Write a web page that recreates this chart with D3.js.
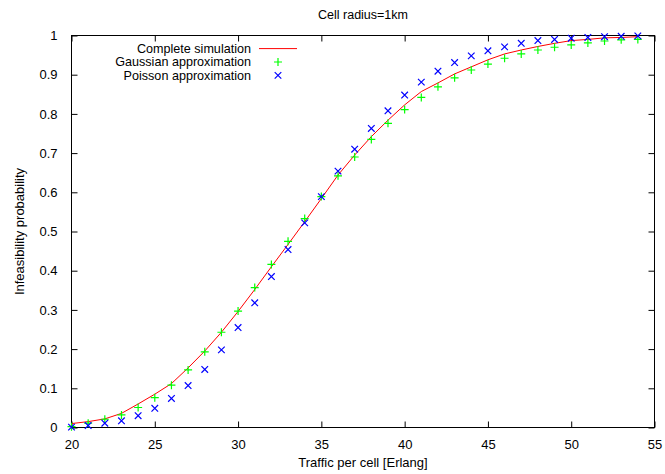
<!DOCTYPE html>
<html><head><meta charset="utf-8">
<script src="https://cdn.jsdelivr.net/npm/d3@7"></script>
<style>body{margin:0;background:#fff}svg{display:block}text{font-family:"Liberation Sans",Arial,sans-serif;fill:#000}</style>
</head><body><svg id="c" width="665" height="474"></svg>
<script>
const traffic = [20,21,22,23,24,25,26,27,28,29,30,31,32,33,34,35,36,37,38,39,40,41,42,43,44,45,46,47,48,49,50,51,52,53,54];
const simulation = [0.010,0.015,0.022,0.036,0.060,0.085,0.112,0.152,0.195,0.243,0.296,0.352,0.410,0.467,0.525,0.584,0.644,0.695,0.742,0.784,0.823,0.857,0.879,0.902,0.920,0.938,0.953,0.963,0.972,0.980,0.987,0.990,0.994,0.995,0.997];
const gaussian = [0.002,0.011,0.021,0.032,0.051,0.076,0.108,0.147,0.193,0.243,0.297,0.357,0.416,0.475,0.533,0.589,0.642,0.690,0.735,0.776,0.811,0.842,0.869,0.892,0.912,0.927,0.942,0.953,0.963,0.970,0.976,0.981,0.986,0.989,0.990];
const poisson = [0.001,0.005,0.011,0.017,0.030,0.049,0.074,0.107,0.148,0.198,0.255,0.318,0.385,0.454,0.522,0.589,0.654,0.710,0.763,0.808,0.848,0.881,0.909,0.931,0.948,0.961,0.971,0.980,0.987,0.990,0.993,0.995,0.997,0.998,0.999];
const xTicks = [20,25,30,35,40,45,50,55];
const yTicks = [0,0.1,0.2,0.3,0.4,0.5,0.6,0.7,0.8,0.9,1];
const legendLabels = ["Complete simulation","Gaussian approximation","Poisson approximation"];
const titleText = "Cell radius=1km";
const xLabel = "Traffic per cell [Erlang]";
const yLabel = "Infeasibility probability";

const svg = d3.select("#c");
const L=71.5, R=654.5, T=35.5, B=427.5;
const x = d3.scaleLinear().domain([20,55]).range([L,R]);
const y = d3.scaleLinear().domain([0,1]).range([B,T]);
const fs = 13;

svg.append("rect").attr("x",L).attr("y",T).attr("width",R-L).attr("height",B-T)
  .attr("fill","none").attr("stroke","#000").attr("stroke-width",1);

const tl = 6;
const fmtY = d => d===0?"0":d===1?"1":d3.format(".1f")(d);
const ax = svg.append("g").attr("transform",`translate(0,${B})`)
  .call(d3.axisBottom(x).tickValues(xTicks).tickSize(-tl).tickPadding(tl+6).tickFormat(d3.format("d")));
const axT = svg.append("g").attr("transform",`translate(0,${T})`)
  .call(d3.axisTop(x).tickValues(xTicks).tickSize(-tl).tickFormat(""));
const ay = svg.append("g").attr("transform",`translate(${L},0)`)
  .call(d3.axisLeft(y).tickValues(yTicks).tickSize(-tl).tickPadding(tl+8).tickFormat(fmtY));
const ayR = svg.append("g").attr("transform",`translate(${R},0)`)
  .call(d3.axisRight(y).tickValues(yTicks).tickSize(-tl).tickFormat(""));
[ax,axT,ay,ayR].forEach(g=>{
  g.select(".domain").remove();
  g.selectAll("line").attr("stroke","#000");
  g.selectAll("text").attr("font-size",fs).attr("font-family","Liberation Sans, Arial, sans-serif").attr("fill","#000");
});

svg.append("text").attr("x",(L+R)/2).attr("y",19).attr("text-anchor","middle").attr("font-size",12.5).text(titleText);
svg.append("text").attr("x",(L+R)/2).attr("y",467).attr("text-anchor","middle").attr("font-size",fs).text(xLabel);
svg.append("text").attr("transform",`translate(24,${(T+B)/2}) rotate(-90)`).attr("text-anchor","middle").attr("font-size",fs).text(yLabel);

const clip = svg.append("g");
const line = d3.line().x((d,i)=>x(traffic[i])).y(d=>y(d));
clip.append("path").datum(simulation).attr("d",line).attr("fill","none").attr("stroke","#ff0000").attr("stroke-width",1);

const ps = 4;
clip.selectAll(".g").data(gaussian).enter().append("path")
  .attr("d",(d,i)=>{const cx=x(traffic[i]),cy=y(d);return `M${cx-ps},${cy}H${cx+ps}M${cx},${cy-ps}V${cy+ps}`;})
  .attr("stroke","#00ff00").attr("stroke-width",1.2).attr("fill","none");
const xs = 3.3;
clip.selectAll(".p").data(poisson).enter().append("path")
  .attr("d",(d,i)=>{const cx=x(traffic[i]),cy=y(d);return `M${cx-xs},${cy-xs}L${cx+xs},${cy+xs}M${cx-xs},${cy+xs}L${cx+xs},${cy-xs}`;})
  .attr("stroke","#0000ff").attr("stroke-width",1.2).attr("fill","none");

const lg = svg.append("g");
const ly = [48.6,62,75.4];
legendLabels.forEach((t,i)=>{
  lg.append("text").attr("x",251).attr("y",ly[i]).attr("dy","0.35em").attr("text-anchor","end").attr("font-size",12.6).text(t);
});
lg.append("line").attr("x1",259).attr("x2",297).attr("y1",ly[0]).attr("y2",ly[0]).attr("stroke","#ff0000");
{const cx=278,cy=ly[1];lg.append("path").attr("d",`M${cx-ps},${cy}H${cx+ps}M${cx},${cy-ps}V${cy+ps}`).attr("stroke","#00ff00").attr("stroke-width",1.2);}
{const cx=278,cy=ly[2];lg.append("path").attr("d",`M${cx-xs},${cy-xs}L${cx+xs},${cy+xs}M${cx-xs},${cy+xs}L${cx+xs},${cy-xs}`).attr("stroke","#0000ff").attr("stroke-width",1.2);}
</script></body></html>
